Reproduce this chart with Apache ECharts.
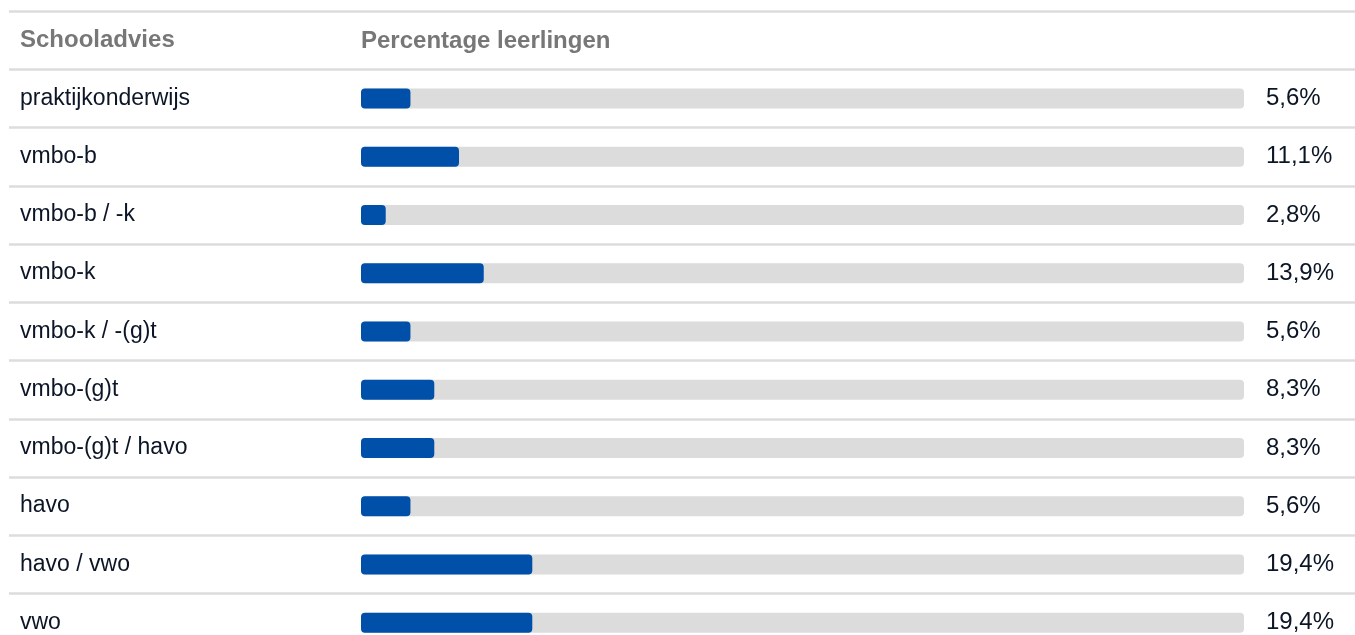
<!DOCTYPE html>
<html>
<head>
<meta charset="utf-8">
<script src="https://cdn.jsdelivr.net/npm/echarts@6/dist/echarts.min.js"></script>
<style>
html,body{margin:0;padding:0;background:#fff;}
#chart{width:1355px;height:635px;}
</style>
</head>
<body>
<div id="chart"></div>
<script>
const headerLabel = 'Schooladvies';
const headerValue = 'Percentage leerlingen';
const categories = ['praktijkonderwijs','vmbo-b','vmbo-b / -k','vmbo-k','vmbo-k / -(g)t','vmbo-(g)t','vmbo-(g)t / havo','havo','havo / vwo','vwo'];
const values = [5.6, 11.1, 2.8, 13.9, 5.6, 8.3, 8.3, 5.6, 19.4, 19.4];

const FONT = 'Liberation Sans, Arial, sans-serif';
const BAND = 58.25;
const TOP = 11;
const fmt = v => v.toFixed(1).replace('.', ',') + '%';

const chart = echarts.init(document.getElementById('chart'), null, {renderer: 'canvas'});
const allCats = [{value: headerLabel, textStyle: {color: '#777777', fontWeight: 'bold', fontSize: 24}}].concat(categories);

chart.setOption({
  animation: false,
  grid: [
    {left: 9, right: 0, top: TOP, height: BAND * 11, containLabel: false, outerBoundsMode: 'none'},
    {left: 361, width: 883, top: TOP + BAND, height: BAND * 10, containLabel: false, outerBoundsMode: 'none'}
  ],
  xAxis: [
    {gridIndex: 0, type: 'value', min: 0, max: 100, show: false},
    {gridIndex: 1, type: 'value', min: 0, max: 100, show: false}
  ],
  yAxis: [
    {
      gridIndex: 0, type: 'category', inverse: true, data: allCats,
      axisLine: {show: false}, axisTick: {show: false},
      splitLine: {show: true, lineStyle: {color: '#dcdcdc', width: 2.5}},
      axisLabel: {inside: true, margin: 11, align: 'left', color: '#0b1526', fontSize: 23, fontFamily: FONT, padding: [3, 0, 0, 0]}
    },
    {
      gridIndex: 1, type: 'category', inverse: true, data: categories,
      axisLine: {show: false}, axisTick: {show: false}, splitLine: {show: false},
      axisLabel: {show: false}
    },
    {
      gridIndex: 1, type: 'category', inverse: true, position: 'right', data: categories,
      axisLine: {show: false}, axisTick: {show: false}, splitLine: {show: false},
      axisLabel: {margin: 22, align: 'left', color: '#0b1526', fontSize: 24, fontFamily: FONT, padding: [3, 0, 0, 0],
        formatter: (v, i) => fmt(values[i])}
    }
  ],
  graphic: [{
    type: 'text', x: 361, y: TOP + BAND / 2 + 1.5,
    style: {text: headerValue, fill: '#777777', font: 'bold 24px ' + FONT, verticalAlign: 'middle', align: 'left'}
  }],
  series: [{
    type: 'bar', xAxisIndex: 1, yAxisIndex: 1, data: values,
    barWidth: 20,
    showBackground: true,
    backgroundStyle: {color: '#dcdcdc', borderRadius: 4},
    itemStyle: {color: '#0050aa', borderRadius: 4}
  }]
});
</script>
</body>
</html>
